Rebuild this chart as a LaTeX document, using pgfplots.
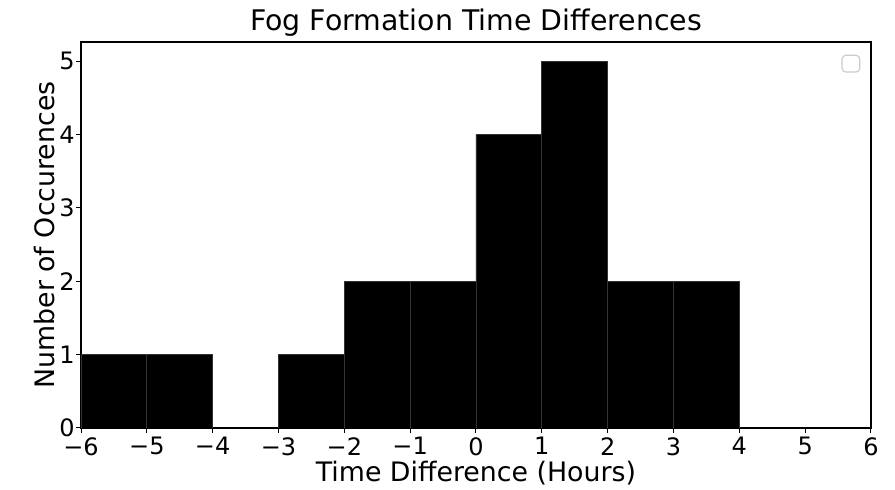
\documentclass[border=0pt]{standalone}
\usepackage{pgfplots}
\pgfplotsset{compat=1.18}
\usepackage{fontspec}
\setmainfont{DejaVu Sans}
\begin{document}
\begin{tikzpicture}
\useasboundingbox (-40.5pt,-31pt) rectangle (407pt,214pt);
\begin{axis}[
  at={(0,0)}, anchor=south west,
  scale only axis, width=395pt, height=193pt,
  xmin=-6, xmax=6, ymin=0, ymax=5.26,
  xtick={-6,...,6}, ytick={0,...,5},
  xticklabels={−6,−5,−4,−3,−2,−1,0,1,2,3,4,5,6},
  tick align=outside, tick pos=left,
  major tick length=2.5pt,
  every tick/.style={black, line width=0.5pt},
  axis line style={line width=0.6pt},
  /pgf/number format/assume math mode=true,
  ticklabel style={font=\fontsize{12}{14}\selectfont},
  xticklabel style={yshift=-2pt, inner ysep=0pt},
  yticklabel style={xshift=1pt, inner ysep=0pt, inner xsep=1.5pt},
  title={Fog Formation Time Differences},
  title style={font=\fontsize{14.2}{16}\selectfont, yshift=-6.5pt},
  xlabel={Time Difference (Hours)},
  ylabel={Number of Occurences},
  label style={font=\fontsize{13.4}{15}\selectfont},
  xlabel style={yshift=-1.5pt, inner ysep=1pt},
  ylabel style={yshift=-3pt},
]
\addplot[ybar interval, fill=black, draw=black!80, line width=0.4pt]
  coordinates {(-6,1) (-5,1) (-4,0) (-3,1) (-2,2) (-1,2) (0,4) (1,5) (2,2) (3,2) (4,0)};
\draw[black!20, line width=0.6pt, rounded corners=2pt, fill=white] (axis cs:5.56,4.85) rectangle (axis cs:5.83,5.08);
\end{axis}
\end{tikzpicture}
\end{document}
